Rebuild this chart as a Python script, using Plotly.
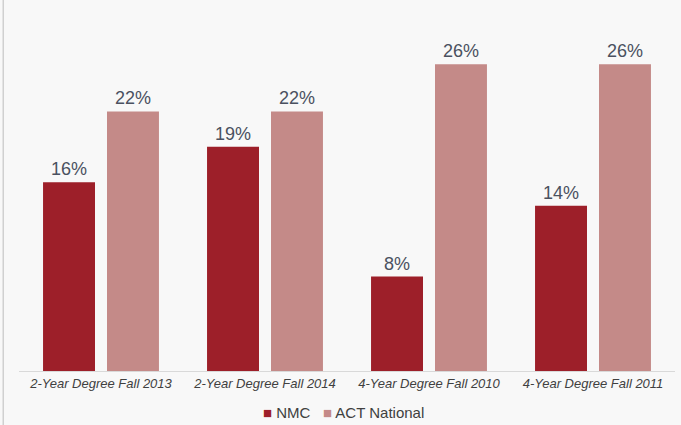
import plotly.graph_objects as go

categories = ["2-Year Degree Fall 2013", "2-Year Degree Fall 2014",
              "4-Year Degree Fall 2010", "4-Year Degree Fall 2011"]
nmc = [16, 19, 8, 14]
act_national = [22, 22, 26, 26]

FONT = "Liberation Sans, Arial, sans-serif"
LABEL_COLOR = "#4a5160"
NMC_COLOR = "#9d1f29"
ACT_COLOR = "#c48a88"

fig = go.Figure()
fig.add_trace(go.Bar(
    name="NMC", x=categories, y=nmc,
    marker=dict(color=NMC_COLOR, line=dict(width=0)),
    text=[f"{v}%" for v in nmc], textposition="outside", cliponaxis=False,
    textfont=dict(size=18, color=LABEL_COLOR, family=FONT),
))
fig.add_trace(go.Bar(
    name="ACT National", x=categories, y=act_national,
    marker=dict(color=ACT_COLOR, line=dict(width=0)),
    text=[f"{v}%" for v in act_national], textposition="outside", cliponaxis=False,
    textfont=dict(size=18, color=LABEL_COLOR, family=FONT),
))

# compact legend row centred under the axis
legend_text = (f"<span style='color:{NMC_COLOR}'>■</span> NMC   "
               f"<span style='color:{ACT_COLOR}'>■</span> ACT National")

fig.update_layout(
    width=681, height=425,
    margin=dict(l=19, r=6, t=17, b=54, autoexpand=False),
    paper_bgcolor="#f8f8f8", plot_bgcolor="#f8f8f8",
    barmode="group", bargap=0.22, bargroupgap=0.1875,
    font=dict(family=FONT, color="#404040"),
    showlegend=False,
    xaxis=dict(showline=True, linecolor="#d9d9d9", linewidth=1, ticks="",
               tickfont=dict(size=13, color="#404040", family=FONT, style="italic"),
               showgrid=False, automargin=False),
    yaxis=dict(range=[0, 30], visible=False, showgrid=False),
    annotations=[dict(text=legend_text, xref="paper", yref="paper",
                      x=0.495, y=-0.118, xanchor="center", yanchor="middle",
                      showarrow=False, font=dict(size=15, color="#404040", family=FONT))],
    shapes=[dict(type="line", xref="paper", yref="paper", x0=-0.024, x1=-0.024,
                 y0=-0.2, y1=1.1, line=dict(color="#d0d0d0", width=1.5))],
)

fig.write_html("out.html")
